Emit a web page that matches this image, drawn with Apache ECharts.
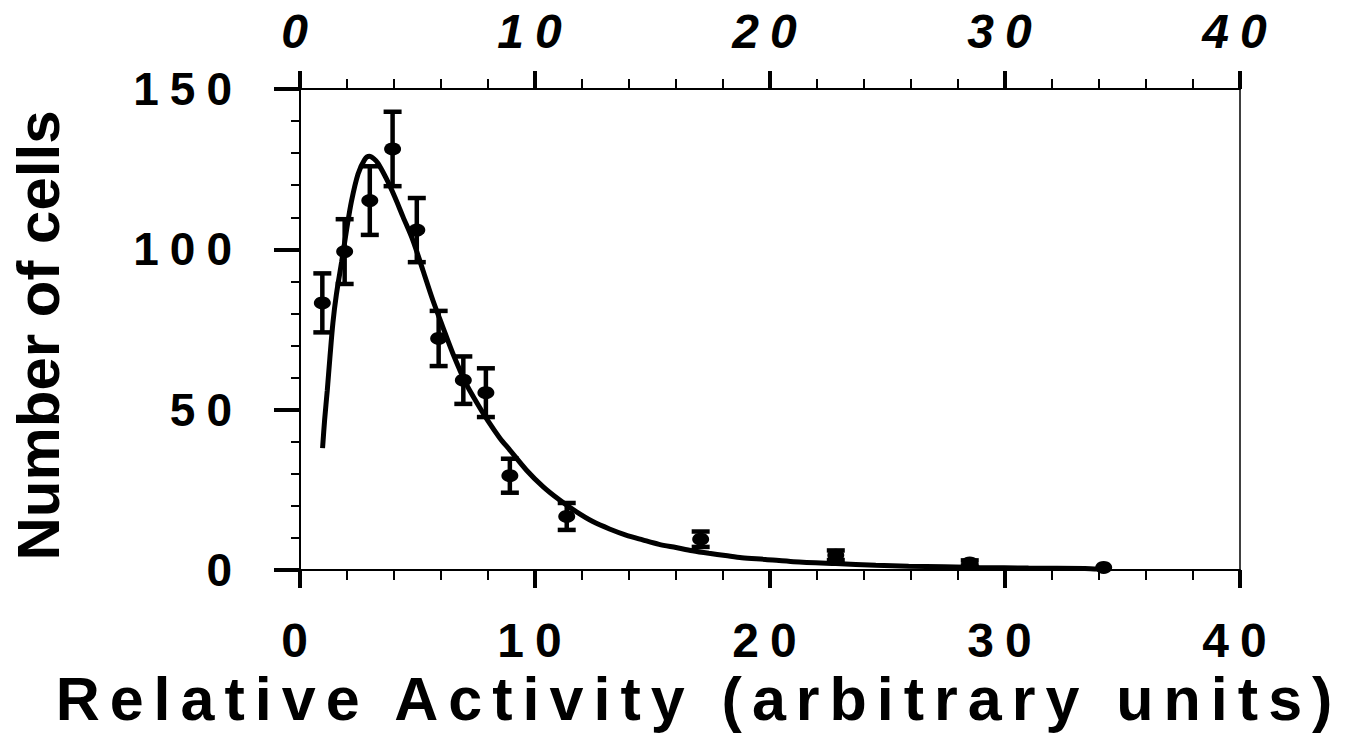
<!DOCTYPE html>
<html>
<head>
<meta charset="utf-8">
<script src="https://cdn.jsdelivr.net/npm/echarts@6/dist/echarts.min.js"></script>
<style>
  html, body { margin: 0; padding: 0; background: #fff; }
  #chart { width: 1353px; height: 737px; }
  /* the original uses wide letter spacing on the tick labels and x title */
  #chart text[style*="46px"], #chart text[style*="48px"] { letter-spacing: 11px; }
  #chart text[style*="61px"] { letter-spacing: 10px; }
</style>
</head>
<body>
<div id="chart"></div>
<script>
// measured points (mean +/- error)
const pointX = [0.95, 1.9, 2.97, 3.94, 4.97, 5.9, 6.95, 7.91, 8.93, 11.35, 17.05, 22.8, 28.5, 34.2]
const pointY = [83.3, 99.3, 115.2, 131.3, 106.0, 72.2, 59.2, 55.3, 29.4, 16.7, 9.6, 4.6, 2.2, 0.8]
const pointErr = [9.2, 10.1, 10.7, 11.6, 10.0, 8.6, 7.4, 7.6, 5.3, 4.2, 2.4, 1.5, 0.8, 0]

// fitted curve
const fitX = [0.96, 1.05, 1.16, 1.27, 1.4, 1.55, 1.77, 1.98, 2.19, 2.47, 2.75, 2.95, 3.15, 3.32, 3.67, 4.03, 4.38, 4.8,
  5.23, 5.65, 6.07, 6.5, 7.06, 7.5, 8.0, 8.5, 8.93, 9.63, 10.34, 11.05, 11.75, 12.46, 13.17, 13.87, 14.58, 15.28,
  16.0, 16.7, 17.4, 18.1, 18.8, 19.8, 21.0, 22.8, 24.5, 25.9, 28.9, 31.0, 33.4, 34.0]
const fitY = [38, 47, 56, 66, 77, 86, 96, 106, 115, 123.5, 128, 129, 128.2, 126.8, 122.1, 116.4, 110.2, 102.9,
  93.5, 84.2, 75.9, 67.6, 58.2, 52.5, 46.5, 41.2, 37.4, 31.2, 26.0, 21.8, 18.2, 15.1, 12.8, 10.9, 9.4, 8.0,
  7.0, 6.0, 5.2, 4.5, 3.8, 3.3, 2.6, 2.0, 1.5, 1.2, 0.8, 0.6, 0.5, 0.3]

const xTicks = { min: 0, max: 40, interval: 10 }
const yTicks = { min: 0, max: 150, interval: 50 }

const xTitle = 'Relative Activity (arbitrary units)'
const yTitle = 'Number of cells'

const font = 'Liberation Sans, Arial, sans-serif'

const chart = echarts.init(document.getElementById('chart'), null, { renderer: 'svg' })

const pointData = pointX.map((x, i) => [x, pointY[i]])
const errData = pointX.map((x, i) => [x, pointY[i] - pointErr[i], pointY[i] + pointErr[i]])
const fitData = fitX.map((x, i) => [x, fitY[i]])

function renderErr(params, api) {
  const lo = api.coord([api.value(0), api.value(1)])
  const hi = api.coord([api.value(0), api.value(2)])
  if (hi[1] === lo[1]) return null
  const cap = 9
  const st = { stroke: '#000', lineWidth: 4.5 }
  return {
    type: 'group',
    children: [
      { type: 'line', shape: { x1: lo[0], y1: lo[1], x2: hi[0], y2: hi[1] }, style: st },
      { type: 'line', shape: { x1: lo[0] - cap, y1: lo[1], x2: lo[0] + cap, y2: lo[1] }, style: st },
      { type: 'line', shape: { x1: hi[0] - cap, y1: hi[1], x2: hi[0] + cap, y2: hi[1] }, style: st }
    ]
  }
}

const xBase = {
  type: 'value',
  min: xTicks.min,
  max: xTicks.max,
  interval: xTicks.interval,
  splitLine: { show: false },
  axisLine: { show: true, onZero: false, lineStyle: { color: '#000', width: 2 } },
  axisTick: { show: true, length: 18, lineStyle: { color: '#000', width: 4 } },
  minorTick: { show: true, splitNumber: 5, length: 10, lineStyle: { color: '#000', width: 2 } }
}

chart.setOption({
  animation: false,
  backgroundColor: '#fff',
  grid: { left: 296, right: 113, top: 89, bottom: 167, containLabel: false },
  xAxis: [
    {
      ...xBase,
      position: 'bottom',
      name: xTitle,
      nameLocation: 'middle',
      nameGap: 98,
      nameTextStyle: { fontFamily: font, fontWeight: 'bold', fontSize: 61, color: '#000', padding: [0, 142, 0, 0] },
      axisLabel: { margin: 46, fontFamily: font, fontWeight: 'bold', fontSize: 48, color: '#000' }
    },
    {
      ...xBase,
      position: 'top',
      axisLabel: { margin: 34, fontFamily: font, fontWeight: 'bold', fontStyle: 'italic', fontSize: 48, color: '#000' }
    }
  ],
  yAxis: [
    {
      type: 'value',
      position: 'left',
      min: yTicks.min,
      max: yTicks.max,
      interval: yTicks.interval,
      name: yTitle,
      nameLocation: 'middle',
      nameRotate: 90,
      nameGap: 232,
      nameTextStyle: { fontFamily: font, fontWeight: 'bold', fontSize: 60, color: '#000', padding: [0, 12, 0, 0] },
      splitLine: { show: false },
      axisLine: { show: true, onZero: false, lineStyle: { color: '#000', width: 2 } },
      axisTick: { show: true, length: 26, lineStyle: { color: '#000', width: 4 } },
      minorTick: { show: true, splitNumber: 5, length: 9, lineStyle: { color: '#000', width: 2 } },
      axisLabel: { margin: 57, fontFamily: font, fontWeight: 'bold', fontSize: 46, color: '#000' }
    },
    {
      type: 'value',
      position: 'right',
      min: yTicks.min,
      max: yTicks.max,
      interval: yTicks.interval,
      splitLine: { show: false },
      axisLine: { show: true, onZero: false, lineStyle: { color: '#000', width: 1.5 } },
      axisTick: { show: false },
      axisLabel: { show: false }
    }
  ],
  series: [
    {
      name: 'fit',
      type: 'line',
      data: fitData,
      smooth: 0.3,
      showSymbol: false,
      lineStyle: { color: '#000', width: 5 },
      z: 2
    },
    {
      name: 'error',
      type: 'custom',
      data: errData,
      renderItem: renderErr,
      encode: { x: 0, y: [1, 2] },
      z: 3
    },
    {
      name: 'cells',
      type: 'scatter',
      data: pointData,
      symbol: 'circle',
      symbolSize: [17, 13],
      itemStyle: { color: '#000', opacity: 1 },
      z: 4
    }
  ]
})
</script>
</body>
</html>
